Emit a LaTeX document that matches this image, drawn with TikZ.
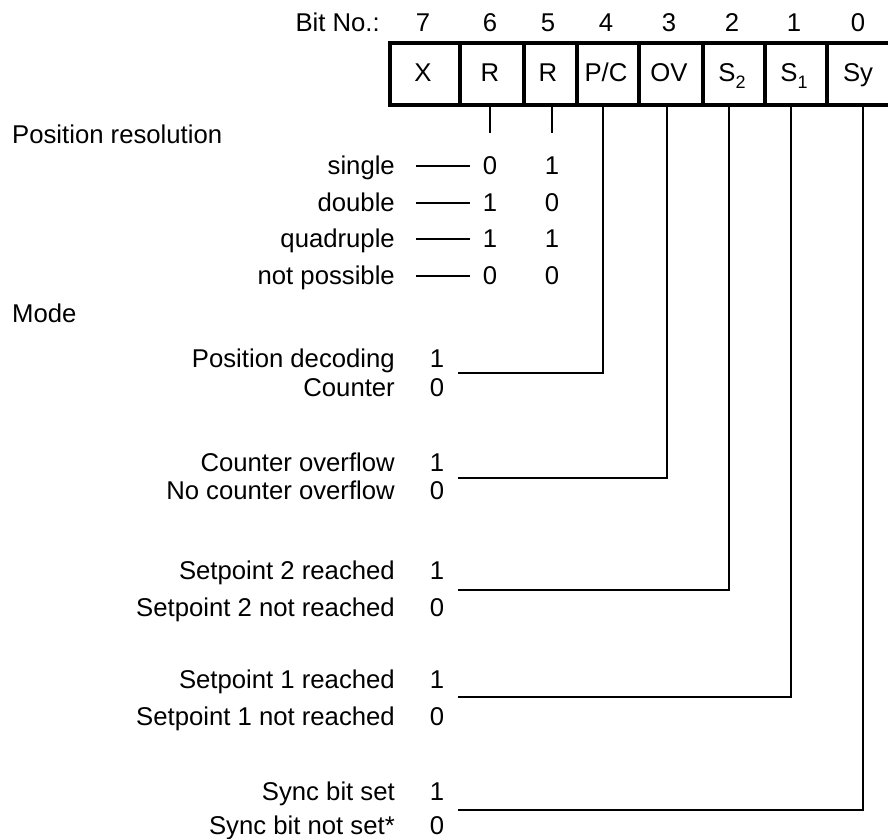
\documentclass[tikz,border=0pt]{standalone}
\usepackage{fontspec}
\setmainfont{Liberation Sans}
\newcommand\lowidx[1]{\raisebox{-0.28em}{\fontsize{18}{18}\selectfont #1}}
\begin{document}
\begin{tikzpicture}[x=1pt,y=-1pt,
  every node/.style={font=\fontsize{25.7}{30}\selectfont, inner sep=0pt},
  cell/.style={draw=black, line width=4pt, minimum height=62pt, anchor=north west},
  lbl/.style={anchor=base east},
  num/.style={anchor=base},
  thin/.style={line width=1.6pt},
  dashline/.style={line width=1.6pt}]
\useasboundingbox (0,0) rectangle (888,838);
% register cells
\node[cell, minimum width=70pt] (c7) at (388,41) {};
\node[cell, minimum width=64pt] (c6) at (458,41) {};
\node[cell, minimum width=53pt] (c5) at (522,41) {};
\node[cell, minimum width=62pt] (c4) at (575,41) {};
\node[cell, minimum width=64pt] (c3) at (637,41) {};
\node[cell, minimum width=62pt] (c2) at (701,41) {};
\node[cell, minimum width=62pt] (c1) at (763,41) {};
\node[cell, minimum width=67pt] (c0) at (825,41) {};
% cell texts
\node[num] (t7) at (423,81) {X};
\node[num] (t6) at (490,81) {R};
\node[num] (t5) at (548,81) {R};
\node[num] (t4) at (606,81) {P/C};
\node[num] (t3) at (669,81) {OV};
\node[num] (t2) at (732,81) {S\lowidx{2}};
\node[num] (t1) at (794,81) {S\lowidx{1}};
\node[num] (t0) at (858,81) {Sy};
% bit numbers
\node[lbl] (bitno) at (380,31) {Bit No.:};
\node[num] (n7) at (423,31) {7};
\node[num] (n6) at (490,31) {6};
\node[num] (n5) at (548,31) {5};
\node[num] (n4) at (606,31) {4};
\node[num] (n3) at (669,31) {3};
\node[num] (n2) at (732,31) {2};
\node[num] (n1) at (794,31) {1};
\node[num] (n0) at (858,31) {0};
% position resolution
\node[anchor=base west] (posres) at (12,143) {Position resolution};
\coordinate (r6top) at (490,103);
\coordinate (r6bot) at (490,133);
\coordinate (r5top) at (552,103);
\coordinate (r5bot) at (552,133);
\draw[thin] (r6top) -- (r6bot);
\draw[thin] (r5top) -- (r5bot);
\foreach \nm/\txt/\yy/\a/\b in {single/single/165/0/1, double/double/202/1/0, quad/quadruple/238/1/1, notp/not possible/275/0/0}{
  \node[lbl] (\nm) at (395,\yy+9) {\txt};
  \node[num] (\nm a) at (490,\yy+9) {\a};
  \node[num] (\nm b) at (552,\yy+9) {\b};
  \coordinate (\nm l) at (416,\yy+1);
  \coordinate (\nm r) at (470,\yy+1);
  \draw[dashline] (\nm l) -- (\nm r);
}
% mode
\node[anchor=base west] (mode) at (12,322) {Mode};
\foreach \nm/\one/\zero/\yy/\yl/\yz/\xx in {
  pc/Position decoding/Counter/358/373/387/603,
  ov/Counter overflow/No counter overflow/462/478/490/667,
  sb/Setpoint 2 reached/Setpoint 2 not reached/570/590/607/729,
  sa/Setpoint 1 reached/Setpoint 1 not reached/679/697/716/791,
  sy/Sync bit set/Sync bit not set*/791/810/825/863}{
  \node[lbl] (\nm one) at (395,\yy+9) {\one};
  \node[lbl] (\nm zero) at (395,\yz+9) {\zero};
  \node[num] (\nm onev) at (437,\yy+9) {1};
  \node[num] (\nm zerov) at (437,\yz+9) {0};
  \coordinate (\nm start) at (458,\yl);
  \coordinate (\nm top) at (\xx,103);
  \draw[thin] (\nm start) -| (\nm top);
}
\end{tikzpicture}
\end{document}
